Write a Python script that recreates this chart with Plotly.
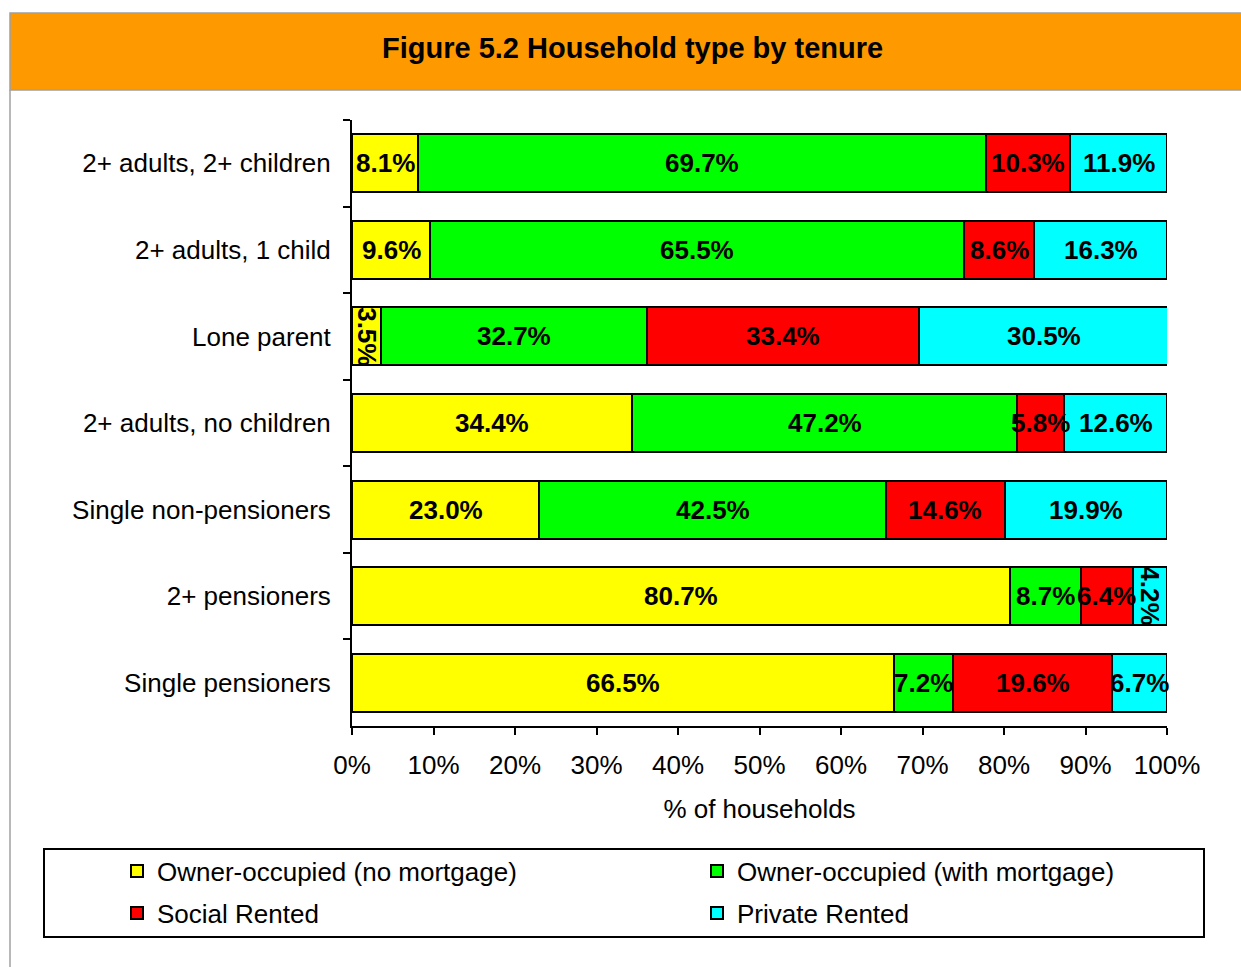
import plotly.graph_objects as go

categories = ["2+ adults, 2+ children", "2+ adults, 1 child", "Lone parent",
              "2+ adults, no children", "Single non-pensioners", "2+ pensioners",
              "Single pensioners"]
own_outright = [8.1, 9.6, 3.5, 34.4, 23.0, 80.7, 66.5]
own_mortgage = [69.7, 65.5, 32.7, 47.2, 42.5, 8.7, 7.2]
social_rented = [10.3, 8.6, 33.4, 5.8, 14.6, 6.4, 19.6]
private_rented = [11.9, 16.3, 30.5, 12.6, 19.9, 4.2, 6.7]
series_names = ["Owner-occupied (no mortgage)", "Owner-occupied (with mortgage)",
                "Social Rented", "Private Rented"]
series_values = [own_outright, own_mortgage, social_rented, private_rented]
colors = ["#FFFF00", "#00FF00", "#FF0000", "#00FFFF"]
x_tickvals = [0, 10, 20, 30, 40, 50, 60, 70, 80, 90, 100]
x_ticktext = ["0%", "10%", "20%", "30%", "40%", "50%", "60%", "70%", "80%", "90%", "100%"]

W, H = 1241, 967
L, R, T, B = 352, 1167, 120, 726
FONT = "Liberation Sans, Arial, sans-serif"
FS = 26


def xp(px):
    return (px - L) / (R - L)


def yp(py):
    return (B - py) / (B - T)


# legend placement (pixel positions of each item's left edge / row centre)
legend_slots = [(117, 871), (697, 871), (117, 913), (697, 913)]
legend_ids = ["legend", "legend2", "legend3", "legend4"]

fig = go.Figure()
for name, vals, col, lg in zip(series_names, series_values, colors, legend_ids):
    fig.add_trace(go.Bar(
        y=categories, x=vals, name=name, orientation="h",
        marker=dict(color=col, line=dict(color="black", width=2)),
        legend=lg, hoverinfo="x+y+name",
    ))

legend_layout = {}
for lg, (lx, ly) in zip(legend_ids, legend_slots):
    legend_layout[lg] = dict(x=xp(lx), y=yp(ly), xanchor="left", yanchor="middle",
                             bgcolor="rgba(0,0,0,0)", borderwidth=0,
                             font=dict(family=FONT, size=FS, color="black"))

fig.update_layout(
    width=W, height=H, barmode="stack", bargap=0.33,
    margin=dict(l=L, r=W - R, t=T, b=H - B, pad=0),
    paper_bgcolor="white", plot_bgcolor="white",
    font=dict(family=FONT, size=FS, color="black"),
    showlegend=True,
    **legend_layout,
    xaxis=dict(range=[0, 100], tickvals=x_tickvals, ticktext=x_ticktext, showgrid=False,
               zeroline=False, showline=True, linecolor="black", linewidth=2,
               ticks="outside", ticklen=7, tickwidth=2, tickcolor="black",
               tickfont=dict(size=FS), fixedrange=True, ticklabelstandoff=8,
               title=dict(text="% of households", font=dict(size=FS), standoff=21)),
    yaxis=dict(categoryorder="array", categoryarray=categories, autorange="reversed",
               showgrid=False, zeroline=False, showline=True, linecolor="black", linewidth=2,
               ticks="outside", ticklen=7, tickwidth=2, tickcolor="black",
               tickson="boundaries", tickfont=dict(size=FS), ticklabelstandoff=14,
               fixedrange=True),
)

# segment labels, centred on each stacked segment (computed from the data)
for i, cat in enumerate(categories):
    start = 0.0
    for vals in series_values:
        v = vals[i]
        fig.add_annotation(
            x=start + v / 2, y=cat, xref="x", yref="y",
            text="<b>%.1f%%</b>" % v, showarrow=False,
            textangle=90 if v < 5 else 0,
            font=dict(family=FONT, size=FS, color="black"),
            xanchor="center", yanchor="middle",
        )
        start += v

shapes = [
    dict(type="rect", xref="paper", yref="paper", x0=xp(10), x1=xp(W + 5), y0=yp(90), y1=yp(13),
         fillcolor="#FF9900", line=dict(color="#A0A0A0", width=1.5), layer="below"),
    dict(type="line", xref="paper", yref="paper", x0=xp(10), x1=xp(10), y0=yp(90), y1=yp(H + 5),
         line=dict(color="#A0A0A0", width=1.5)),
    dict(type="rect", xref="paper", yref="paper", x0=xp(44), x1=xp(1204), y0=yp(937), y1=yp(849),
         fillcolor="rgba(0,0,0,0)", line=dict(color="black", width=2)),
]
fig.update_layout(shapes=shapes)
fig.add_annotation(text="<b>Figure 5.2 Household type by tenure</b>", xref="paper", yref="paper",
                   x=xp(632), y=yp(48), showarrow=False, xanchor="center", yanchor="middle",
                   font=dict(family=FONT, size=29, color="black"))

fig.write_html("out.html", config={"displayModeBar": False},
               post_script="document.body.style.margin='0px';document.body.style.overflow='hidden';")
